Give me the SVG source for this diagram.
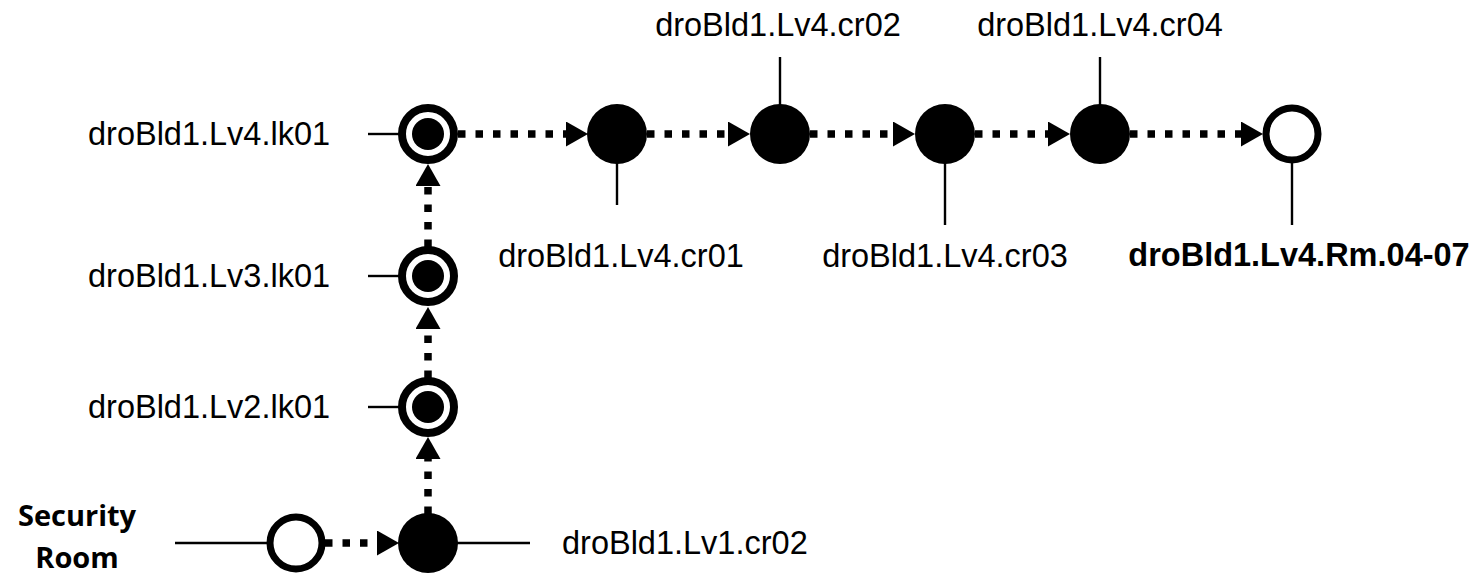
<svg xmlns="http://www.w3.org/2000/svg" width="1478" height="576" viewBox="0 0 1478 576">
<style>
.lbl{font-family:"Liberation Sans",Arial,sans-serif;font-size:32.5px;fill:#000}
.bold{font-weight:bold}
.sec{font-family:"Open Sans","Liberation Sans",sans-serif;font-weight:bold;font-size:29px;fill:#000}
.pin{stroke:#000;stroke-width:2.4;fill:none}
.dash{stroke:#000;stroke-width:7.5;stroke-dasharray:7.5 10;fill:none}
.fill{fill:#000}
.open{fill:#fff;stroke:#000;stroke-width:7}
.ring{fill:#fff;stroke:#000;stroke-width:8}
</style>
<defs>
<marker id="arr" markerUnits="userSpaceOnUse" markerWidth="24" markerHeight="26" refX="0" refY="12.5" orient="auto">
<path d="M0,0 L22,12.5 L0,25 z" fill="#000"/>
</marker>
</defs>
<g id="connectors">
<line class="dash" x1="325" y1="543" x2="377" y2="543" marker-end="url(#arr)"/>
<line class="dash" x1="428" y1="514" x2="428" y2="459" marker-end="url(#arr)"/>
<line class="dash" x1="428" y1="378" x2="428" y2="329" marker-end="url(#arr)"/>
<line class="dash" x1="428" y1="247" x2="428" y2="186" marker-end="url(#arr)"/>
<line class="dash" x1="458" y1="134" x2="566" y2="134" marker-end="url(#arr)"/>
<line class="dash" x1="647" y1="134" x2="728" y2="134" marker-end="url(#arr)"/>
<line class="dash" x1="810" y1="134" x2="893" y2="134" marker-end="url(#arr)"/>
<line class="dash" x1="975" y1="134" x2="1048" y2="134" marker-end="url(#arr)"/>
<line class="dash" x1="1130" y1="134" x2="1241" y2="134" marker-end="url(#arr)"/>
</g>
<g id="security-room">
<line class="pin" x1="175" y1="543" x2="268" y2="543"/>
<circle class="open" cx="296" cy="543" r="26"/>
<text class="sec" x="77" y="526" text-anchor="middle">Security</text>
<text class="sec" x="77" y="568" text-anchor="middle">Room</text>
</g>
<g id="lv1-cr02">
<line class="pin" x1="457" y1="543" x2="530" y2="543"/>
<circle class="fill" cx="428" cy="543" r="30"/>
<text class="lbl" x="562" y="554">droBld1.Lv1.cr02</text>
</g>
<g id="lv2-lk01">
<line class="pin" x1="368" y1="407" x2="399" y2="407"/>
<circle class="ring" cx="428" cy="407" r="26"/>
<circle class="fill" cx="428" cy="407" r="16"/>
<text class="lbl" x="88" y="418">droBld1.Lv2.lk01</text>
</g>
<g id="lv3-lk01">
<line class="pin" x1="368" y1="276" x2="399" y2="276"/>
<circle class="ring" cx="428" cy="276" r="26"/>
<circle class="fill" cx="428" cy="276" r="16"/>
<text class="lbl" x="88" y="287">droBld1.Lv3.lk01</text>
</g>
<g id="lv4-lk01">
<line class="pin" x1="368" y1="134" x2="399" y2="134"/>
<circle class="ring" cx="428" cy="134" r="26"/>
<circle class="fill" cx="428" cy="134" r="16"/>
<text class="lbl" x="88" y="145">droBld1.Lv4.lk01</text>
</g>
<g id="lv4-cr01">
<line class="pin" x1="617" y1="160" x2="617" y2="205"/>
<circle class="fill" cx="617" cy="134" r="30"/>
<text class="lbl" x="621" y="267" text-anchor="middle">droBld1.Lv4.cr01</text>
</g>
<g id="lv4-cr02">
<line class="pin" x1="780" y1="57" x2="780" y2="108"/>
<circle class="fill" cx="780" cy="134" r="30"/>
<text class="lbl" x="778" y="36" text-anchor="middle">droBld1.Lv4.cr02</text>
</g>
<g id="lv4-cr03">
<line class="pin" x1="945" y1="160" x2="945" y2="225"/>
<circle class="fill" cx="945" cy="134" r="30"/>
<text class="lbl" x="945" y="267" text-anchor="middle">droBld1.Lv4.cr03</text>
</g>
<g id="lv4-cr04">
<line class="pin" x1="1100" y1="57" x2="1100" y2="108"/>
<circle class="fill" cx="1100" cy="134" r="30"/>
<text class="lbl" x="1100" y="36" text-anchor="middle">droBld1.Lv4.cr04</text>
</g>
<g id="lv4-rm-04-07">
<line class="pin" x1="1292" y1="160" x2="1292" y2="225"/>
<circle class="open" cx="1292" cy="134" r="26"/>
<text class="lbl bold" x="1299" y="266" text-anchor="middle">droBld1.Lv4.Rm.04-07</text>
</g>
</svg>
